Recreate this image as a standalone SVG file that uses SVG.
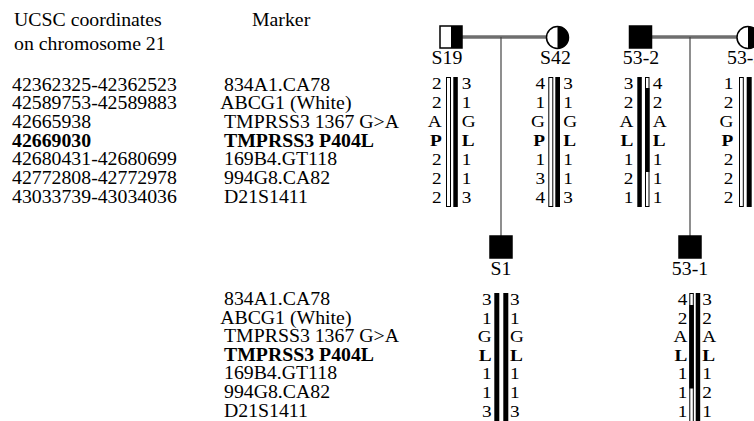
<svg xmlns="http://www.w3.org/2000/svg" width="754" height="421" viewBox="0 0 754 421">
<style>
text{font-family:"Liberation Serif","Times New Roman",serif;font-size:18px;fill:#000}
.b{font-weight:bold}
.al text{font-size:17.5px}
.wb{fill:#fff;stroke:#000;stroke-width:1}
.bb{fill:#000}
.mate{stroke:#6e6e6e;stroke-width:3.5;fill:none}
.desc{stroke:#444;stroke-width:1.2;fill:none}
.sym{stroke:#000;stroke-width:1.5}
</style>
<rect width="754" height="421" fill="#fff"/>

<!-- headers and labels -->
<g id="labels">
  <g transform="translate(14,0) scale(1.1,1)">
    <text x="0" y="26.5">UCSC coordinates</text>
    <text x="0" y="50.5">on chromosome 21</text>
  </g>
  <g transform="translate(252,0) scale(1.1,1)">
    <text x="0" y="26.5">Marker</text>
  </g>
  <g transform="translate(12,0) scale(1.1,1)">
    <text x="0" y="90.7">42362325-42362523</text>
    <text x="0" y="109.3">42589753-42589883</text>
    <text x="0" y="128">42665938</text>
    <text x="0" y="146.7" class="b">42669030</text>
    <text x="0" y="165.3">42680431-42680699</text>
    <text x="0" y="184">42772808-42772978</text>
    <text x="0" y="202.7">43033739-43034036</text>
  </g>
  <g transform="translate(224,0) scale(1.1,1)">
    <text x="0" y="90.7">834A1.CA78</text>
    <text x="-3.5" y="109.3">ABCG1 (White)</text>
    <text x="0" y="128">TMPRSS3 1367 G&gt;A</text>
    <text x="0" y="146.7" class="b">TMPRSS3 P404L</text>
    <text x="0" y="165.3">169B4.GT118</text>
    <text x="0" y="184">994G8.CA82</text>
    <text x="0" y="202.7">D21S1411</text>
  </g>
  <g transform="translate(224,0) scale(1.1,1)">
    <text x="0" y="305">834A1.CA78</text>
    <text x="-3.5" y="323.6">ABCG1 (White)</text>
    <text x="0" y="342.2">TMPRSS3 1367 G&gt;A</text>
    <text x="0" y="360.8" class="b">TMPRSS3 P404L</text>
    <text x="0" y="379.4">169B4.GT118</text>
    <text x="0" y="398">994G8.CA82</text>
    <text x="0" y="416.6">D21S1411</text>
  </g>
</g>

<!-- connectors -->
<g id="connectors">
  <line class="mate" x1="462" y1="37" x2="546.5" y2="37"/>
  <line class="desc" x1="501" y1="37" x2="501" y2="236"/>
  <line class="mate" x1="651.5" y1="37" x2="737" y2="37"/>
  <line class="desc" x1="690" y1="37" x2="690" y2="236"/>
</g>

<!-- S19 -->
<g id="S19">
  <rect class="sym" x="440" y="26" width="22" height="22" fill="#fff"/>
  <rect x="451" y="26" width="11" height="22" fill="#000"/>
  <g transform="translate(447,0) scale(1.1,1)"><text x="0" y="64.5" text-anchor="middle">S19</text></g>
  <rect class="wb" x="446.5" y="77.5" width="4" height="129"/>
  <rect class="bb" x="453.3" y="77" width="4.5" height="130"/>
  <g class="al" transform="translate(441.7,0) scale(1.1,1)" text-anchor="end">
    <text x="0" y="89.5">2</text><text x="0" y="108.4">2</text><text x="0" y="127.3">A</text><text x="0" y="146.2" class="b">P</text><text x="0" y="165.1">2</text><text x="0" y="184">2</text><text x="0" y="202.9">2</text>
  </g>
  <g class="al" transform="translate(461.7,0) scale(1.1,1)">
    <text x="0" y="89.5">3</text><text x="0" y="108.4">1</text><text x="0" y="127.3">G</text><text x="0" y="146.2" class="b">L</text><text x="0" y="165.1">1</text><text x="0" y="184">1</text><text x="0" y="202.9">3</text>
  </g>
</g>

<!-- S42 -->
<g id="S42">
  <circle class="sym" cx="557.5" cy="37.5" r="11" fill="#fff"/>
  <path d="M557.5,26.5 A11,11 0 0 1 557.5,48.5 Z" fill="#000"/>
  <g transform="translate(555.5,0) scale(1.1,1)"><text x="0" y="64.5" text-anchor="middle">S42</text></g>
  <rect class="wb" x="548.8" y="77.5" width="4" height="129"/>
  <rect class="bb" x="555.3" y="77" width="4.7" height="130"/>
  <g class="al" transform="translate(545,0) scale(1.1,1)" text-anchor="end">
    <text x="0" y="89.5">4</text><text x="0" y="108.4">1</text><text x="0" y="127.3">G</text><text x="0" y="146.2" class="b">P</text><text x="0" y="165.1">1</text><text x="0" y="184">3</text><text x="0" y="202.9">4</text>
  </g>
  <g class="al" transform="translate(563.3,0) scale(1.1,1)">
    <text x="0" y="89.5">3</text><text x="0" y="108.4">1</text><text x="0" y="127.3">G</text><text x="0" y="146.2" class="b">L</text><text x="0" y="165.1">1</text><text x="0" y="184">1</text><text x="0" y="202.9">3</text>
  </g>
</g>

<!-- 53-2 -->
<g id="n53-2">
  <rect class="sym" x="629.5" y="26" width="22" height="22" fill="#000"/>
  <g transform="translate(641,0) scale(1.1,1)"><text x="0" y="64.5" text-anchor="middle">53-2</text></g>
  <rect class="bb" x="637.3" y="77" width="4.5" height="130"/>
  <rect class="wb" x="645.5" y="77.5" width="3.5" height="129"/>
  <rect class="bb" x="645" y="88" width="4.5" height="84"/>
  <g class="al" transform="translate(633.3,0) scale(1.1,1)" text-anchor="end">
    <text x="0" y="89.5">3</text><text x="0" y="108.4">2</text><text x="0" y="127.3">A</text><text x="0" y="146.2" class="b">L</text><text x="0" y="165.1">1</text><text x="0" y="184">2</text><text x="0" y="202.9">1</text>
  </g>
  <g class="al" transform="translate(652.7,0) scale(1.1,1)">
    <text x="0" y="89.5">4</text><text x="0" y="108.4">2</text><text x="0" y="127.3">A</text><text x="0" y="146.2" class="b">L</text><text x="0" y="165.1">1</text><text x="0" y="184">1</text><text x="0" y="202.9">1</text>
  </g>
</g>

<!-- 53-3 (cut off at right edge, as in the reference) -->
<g id="n53-3">
  <circle class="sym" cx="748" cy="37.5" r="11" fill="#fff"/>
  <path d="M748,26.5 A11,11 0 0 1 748,48.5 Z" fill="#000"/>
  <g transform="translate(727,0) scale(1.1,1)"><text x="0" y="64.5">53-3</text></g>
  <rect class="wb" x="739.5" y="77.5" width="3.8" height="129"/>
  <rect class="bb" x="746.7" y="77" width="5" height="130"/>
  <g class="al" transform="translate(733.3,0) scale(1.1,1)" text-anchor="end">
    <text x="0" y="89.5">1</text><text x="0" y="108.4">2</text><text x="0" y="127.3">G</text><text x="0" y="146.2" class="b">P</text><text x="0" y="165.1">2</text><text x="0" y="184">2</text><text x="0" y="202.9">2</text>
  </g>
</g>

<!-- S1 -->
<g id="S1">
  <rect class="sym" x="490" y="236" width="22" height="22" fill="#000"/>
  <g transform="translate(501,0) scale(1.1,1)"><text x="0" y="275.5" text-anchor="middle">S1</text></g>
  <rect class="bb" x="494.3" y="293" width="5" height="128"/>
  <rect class="bb" x="503.3" y="293" width="5" height="128"/>
  <g class="al" transform="translate(491.7,0) scale(1.1,1)" text-anchor="end">
    <text x="0" y="305">3</text><text x="0" y="323.6">1</text><text x="0" y="342.2">G</text><text x="0" y="360.8" class="b">L</text><text x="0" y="379.4">1</text><text x="0" y="398">1</text><text x="0" y="416.6">3</text>
  </g>
  <g class="al" transform="translate(510,0) scale(1.1,1)">
    <text x="0" y="305">3</text><text x="0" y="323.6">1</text><text x="0" y="342.2">G</text><text x="0" y="360.8" class="b">L</text><text x="0" y="379.4">1</text><text x="0" y="398">1</text><text x="0" y="416.6">3</text>
  </g>
</g>

<!-- 53-1 -->
<g id="n53-1">
  <rect class="sym" x="679" y="236" width="22" height="22" fill="#000"/>
  <g transform="translate(690,0) scale(1.1,1)"><text x="0" y="275.5" text-anchor="middle">53-1</text></g>
  <rect class="wb" x="689.8" y="293.5" width="3.5" height="128"/>
  <rect class="bb" x="689.3" y="305" width="4.5" height="83.5"/>
  <rect class="bb" x="695.7" y="293" width="4.5" height="128"/>
  <g class="al" transform="translate(687.3,0) scale(1.1,1)" text-anchor="end">
    <text x="0" y="305">4</text><text x="0" y="323.6">2</text><text x="0" y="342.2">A</text><text x="0" y="360.8" class="b">L</text><text x="0" y="379.4">1</text><text x="0" y="398">1</text><text x="0" y="416.6">1</text>
  </g>
  <g class="al" transform="translate(702.3,0) scale(1.1,1)">
    <text x="0" y="305">3</text><text x="0" y="323.6">2</text><text x="0" y="342.2">A</text><text x="0" y="360.8" class="b">L</text><text x="0" y="379.4">1</text><text x="0" y="398">2</text><text x="0" y="416.6">1</text>
  </g>
</g>
</svg>
